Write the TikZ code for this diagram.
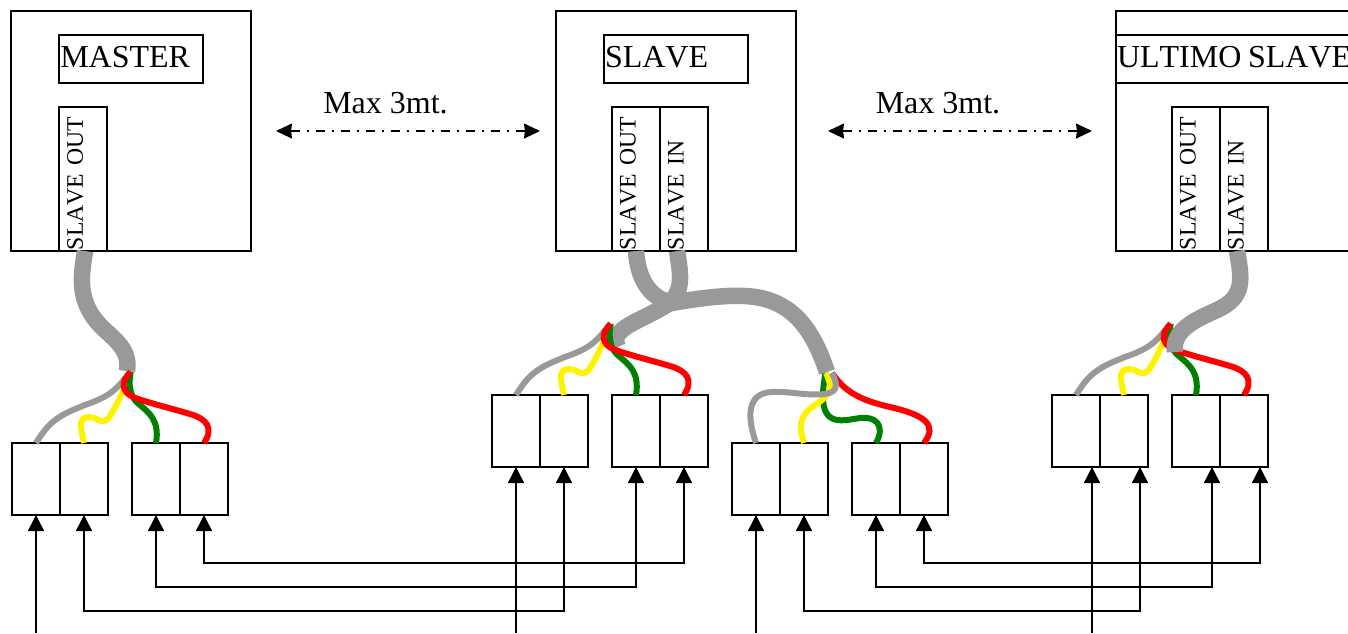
\documentclass[tikz,border=0pt]{standalone}
\usepackage{fontspec}
\setmainfont[Kerning=Off]{Liberation Serif}
\usetikzlibrary{arrows.meta,positioning}
\definecolor{cablegray}{RGB}{153,153,153}
\definecolor{wiregreen}{RGB}{0,128,0}

\tikzset{
    box/.style={draw, line width=1.7pt, inner sep=0pt, outer sep=0pt},
    unit/.style={box, minimum width=240pt, minimum height=240pt},
    title/.style={box, inner xsep=1pt, inner ysep=0pt, align=left, font=\fontsize{32}{36}\selectfont,
        text width=#1, text height=32pt, text depth=16pt},
    port/.style={box, rotate=90, inner xsep=1pt, inner ysep=0pt, align=left, text width=142pt,
        font=\fontsize{23.7}{28}\selectfont, text height=23.5pt, text depth=24.5pt},
    term/.style={box, minimum width=48pt, minimum height=72pt},
    cable/.style={line width=16.5pt, cablegray},
    wire/.style={line width=6pt, #1},
    signal/.style={{Triangle[length=16pt,width=16pt]}-{Triangle[length=16pt,width=16pt]}, line width=1.5pt},
    feed/.style={-{Triangle[length=16pt,width=16pt]}, line width=1.5pt},
    span/.style={{Stealth[length=16pt,width=15pt,inset=1pt]}-{Stealth[length=16pt,width=15pt,inset=1pt]},
        line width=1.5pt, dash pattern=on 9pt off 7pt on 2pt off 7pt},
    spanlabel/.style={font=\fontsize{32}{36}\selectfont, inner sep=0pt}
}

% row of four terminals, #2/#3 = centre of the first one
\newcommand{\termrow}[3]{
    \node[term] (#11) at (#2,#3) {};
    \node[term, right=0pt of #11] (#12) {};
    \node[term, right=24pt of #12] (#13) {};
    \node[term, right=0pt of #13] (#14) {};
}
% the four wires of a row, shifted by #2,#3 from the master row
\newcommand{\wirefan}[3]{
    \begin{scope}[shift={(#2,#3)}]
    \draw[wire=cablegray] (#11.north) .. controls (50,420) and (60,415) .. (85,405) .. controls (105,398) and (115,392) .. (125,378);
    \draw[wire=yellow] (#12.north) .. controls (80,425) and (78,417) .. (90,417) .. controls (100,418) and (103,428) .. (112,413) .. controls (115,408) and (120,398) .. (124,388);
    \draw[wire=wiregreen] (#13.north) .. controls (160,420) and (148,412) .. (140,405) .. controls (130,398) and (128,385) .. (#1);
    \draw[wire=red] (#14.north) .. controls (214,428) and (207,419) .. (190,414) .. controls (170,408) and (145,402) .. (133,397) .. controls (122,392) and (120,382) .. (#1);
    \end{scope}
}

\begin{document}
\begin{tikzpicture}[x=1pt, y=-1pt]
\useasboundingbox (0,0) rectangle (1348,633);
\clip (0,0) rectangle (1348,633);

% units
\node[unit] (master) at (131.25,131) {};
\node[unit] (slave) at (676,131) {};
\node[unit] (ultimo) at (1236,131) {};
\node[title=142pt] (masterTitle) at (131.25,59) {MASTER};
\node[title=142pt] (slaveTitle) at (676,59) {SLAVE};
\node[title=250pt] (ultimoTitle) at (1242,59) {ULTIMO\hspace{-4pt} SLAVE};
\node[port] (masterOut) at (83.25,179) {SLAVE OUT};
\node[port] (slaveOut) at (636,179) {SLAVE OUT};
\node[port] (slaveIn) at (684,179) {SLAVE IN};
\node[port] (ultimoOut) at (1196,179) {SLAVE OUT};
\node[port] (ultimoIn) at (1244,179) {SLAVE IN};

% distance marks
\coordinate (gapA) at (276,131);
\coordinate (gapB) at (540,131);
\coordinate (gapC) at (828,131);
\coordinate (gapD) at (1092,131);
\draw[span] (gapA) -- (gapB);
\draw[span] (gapC) -- (gapD);
\node[spanlabel] (spanA) at (385.5,103) {Max 3mt.};
\node[spanlabel] (spanB) at (938,103) {Max 3mt.};

% terminals
\termrow{a}{36}{479}
\termrow{b}{516}{431}
\termrow{c}{756}{479}
\termrow{d}{1076}{431}

% cable ends
\coordinate (a) at (130.7,371.7);
\coordinate (b) at (610.7,323.7);
\coordinate (d) at (1170.7,323.7);
\coordinate (c) at (825,372.7);

% cables and wires
\draw[cable] ([xshift=1.75pt]masterOut.west) .. controls (82,272) and (76,298) .. (98,323) .. controls (110,337) and (131,347) .. (127,371);
\wirefan{a}{0}{0}

\draw[wire=wiregreen] (c3.north) .. controls (886,425) and (875,416) .. (860,418) .. controls (845,420) and (822,428) .. (823,395) .. controls (823,385) and (825,380) .. (c);
\draw[wire=yellow] (c2.north) .. controls (798,425) and (800,415) .. (815,405) .. controls (830,395) and (834,390) .. (826,373);
\draw[wire=red] (c4.north) .. controls (938,425) and (925,415) .. (890,407) .. controls (860,400) and (845,392) .. (832,373);
\draw[wire=cablegray] (c1.north) .. controls (748,420) and (745,393) .. (772,392) .. controls (790,391) and (805,396) .. (825,394) .. controls (838,392) and (838,385) .. (832,373);

\draw[cable] (slaveOut.west) .. controls (638,280) and (650,298) .. (672,303) .. controls (700,298) and (725,295) .. (745,296) .. controls (785,298) and (810,320) .. (827,372);
\draw[cable] ([xshift=-7pt]slaveIn.west) .. controls (682,280) and (682,292) .. (668,304) .. controls (650,316) and (630,322) .. (620,332) .. controls (615,338) and (615,342) .. (618,347);
\wirefan{b}{480}{-48}

\wirefan{d}{1040}{-48}
\draw[cable] ([xshift=-7pt]ultimoIn.west) .. controls (1242,280) and (1245,297) .. (1217,310) .. controls (1195,320) and (1172,330) .. (1175,352);

% signal lines
\coordinate (in1) at (36,633);
\coordinate (in2) at (516,633);
\coordinate (in3) at (756,633);
\coordinate (in4) at (1092,633);
\draw[feed] (in1) -- (a1.south);
\draw[feed] (in2) -- (b1.south);
\draw[feed] (in3) -- (c1.south);
\draw[feed] (in4) -- ([xshift=16pt]d1.south);
\draw[signal] (a2.south) -- ++(0,96) -| (b2.south);
\draw[signal] (a3.south) -- ++(0,72) -| (b3.south);
\draw[signal] (a4.south) -- ++(0,48) -| (b4.south);
\draw[signal] (c2.south) -- ++(0,96) -| ([xshift=16pt]d2.south);
\draw[signal] (c3.south) -- ++(0,72) -| ([xshift=16pt]d3.south);
\draw[signal] (c4.south) -- ++(0,48) -| ([xshift=16pt]d4.south);
\end{tikzpicture}
\end{document}
